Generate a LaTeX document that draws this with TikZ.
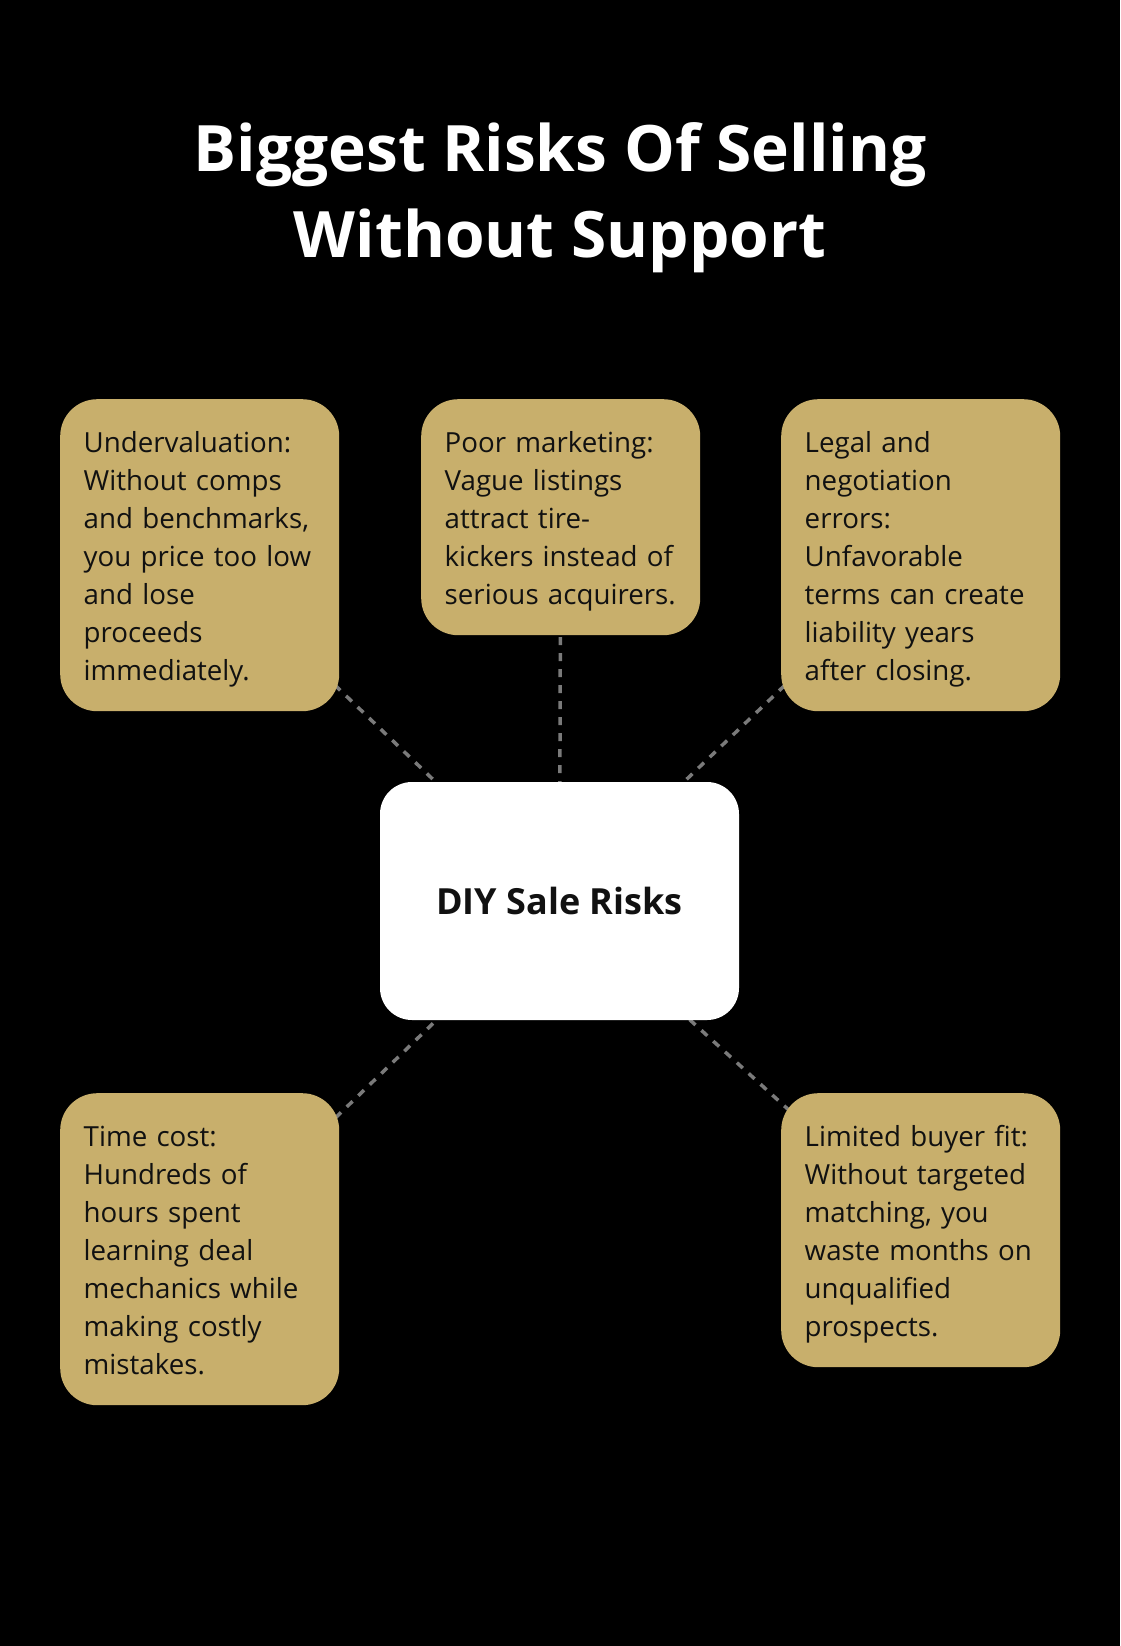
\documentclass[tikz,border=0pt]{standalone}
\usepackage{fontspec}
\setmainfont{Open Sans}
\usetikzlibrary{backgrounds}
\definecolor{Gold}{HTML}{C8AF6C}
\definecolor{Dash}{HTML}{7A7A7A}
\definecolor{Ink}{HTML}{111111}
\newcommand{\riskstrut}{\rule[-8pt]{0pt}{38pt}}

\begin{document}
\begin{tikzpicture}[x=1pt,y=-1pt,
  risk/.style={anchor=north west,fill=Gold,text=Ink,rounded corners=37pt,text width=232pt,inner xsep=23.5pt,inner ysep=23pt,align=left,font=\fontsize{27.7pt}{38pt}\selectfont,execute at begin node=\riskstrut,execute at end node=\riskstrut},
  link/.style={Dash,line width=3.5pt,dash pattern=on 8pt off 8pt}]
\useasboundingbox (0,0) rectangle (1120,1646);
\node[text=white,align=center,anchor=base,font=\fontsize{64pt}{86pt}\selectfont\bfseries] (title) at (560,257) {Biggest Risks Of Selling\\Without Support};
\node[fill=white,text=Ink,rounded corners=32pt,minimum width=359pt,minimum height=238pt,font=\fontsize{36pt}{44pt}\selectfont\bfseries] (core) at (559.5,901) {DIY Sale Risks};
\node[risk] (under) at (60,399) {Undervaluation:\\Without comps\\and benchmarks,\\you price too low\\and lose\\proceeds\\immediately.};
\node[risk] (market) at (421,399) {Poor marketing:\\Vague listings\\attract tire-\\kickers instead of\\serious acquirers.};
\node[risk] (legal) at (781,399) {Legal and\\negotiation\\errors:\\Unfavorable\\terms can create\\liability years\\after closing.};
\node[risk] (timecost) at (60,1093) {Time cost:\\Hundreds of\\hours spent\\learning deal\\mechanics while\\making costly\\mistakes.};
\node[risk] (buyer) at (781,1093) {Limited buyer fit:\\Without targeted\\matching, you\\waste months on\\unqualified\\prospects.};
\begin{scope}[on background layer]
\fill[black] (0,0) rectangle (1120,1646);
\foreach \n in {under,market,legal,timecost,buyer} {\draw[link] (core.center) -- (\n.center);}
\end{scope}
\end{tikzpicture}
\end{document}
